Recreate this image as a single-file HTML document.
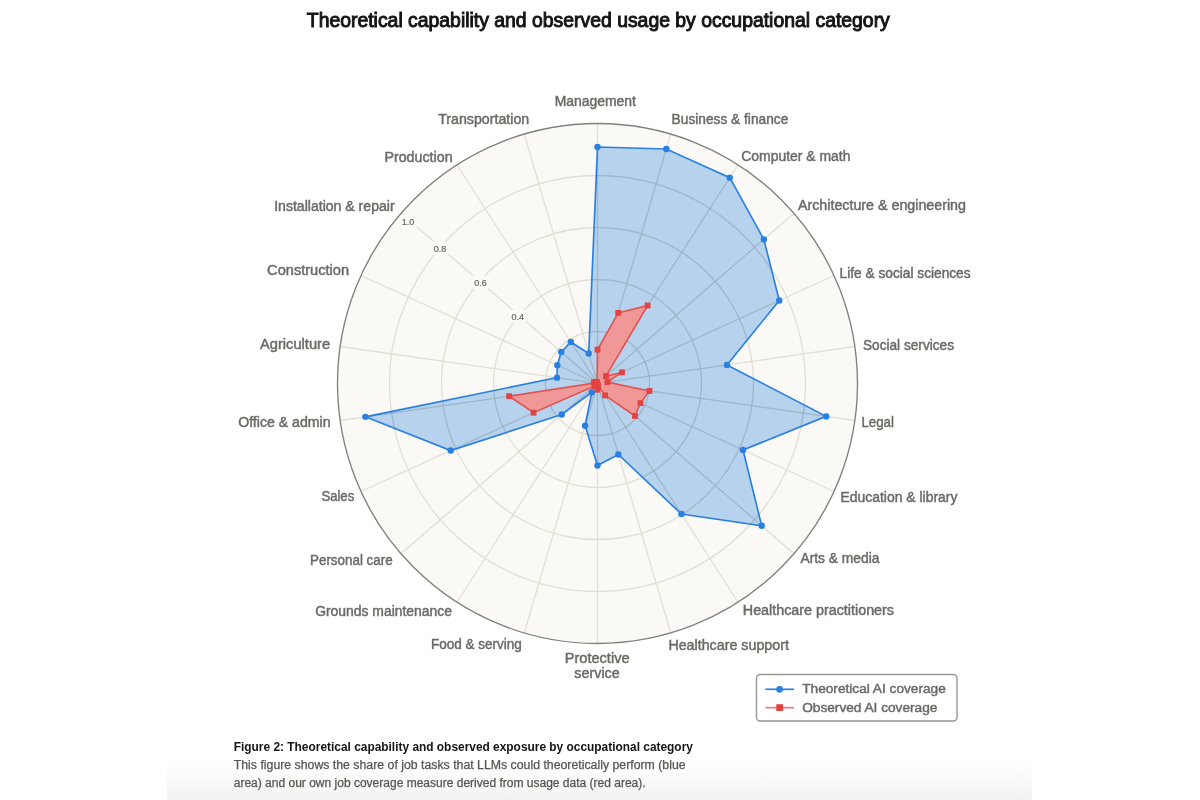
<!DOCTYPE html><html><head><meta charset="utf-8"><style>html,body{margin:0;padding:0;background:#fff;}svg{display:block;will-change:transform;}text{font-family:"Liberation Sans",sans-serif;} .lb{fill:#6b6a65;stroke:#6b6a65;stroke-width:0.45px;} .tt{fill:#141413;stroke:#141413;stroke-width:0.95px;}</style></head><body>
<svg width="1200" height="800" viewBox="0 0 1200 800">
<defs><linearGradient id="g" x1="0" y1="0" x2="0" y2="1"><stop offset="0" stop-color="#fff"/><stop offset="1" stop-color="#f2f2f2"/></linearGradient></defs>
<rect x="0" y="0" width="1200" height="800" fill="#fff"/>
<rect x="167" y="761" width="865" height="39" fill="url(#g)"/>
<text x="306.8" y="26.6" font-size="19.5" class="tt" textLength="583" lengthAdjust="spacingAndGlyphs">Theoretical capability and observed usage by occupational category</text>
<circle cx="597.5" cy="383.5" r="260.0" fill="#faf9f5"/>
<defs><clipPath id="bc"><polygon points="597.50,147.00 666.35,149.01 729.79,177.66 763.85,239.36 779.25,300.50 726.98,364.88 826.20,416.38 743.02,449.96 761.71,525.79 681.41,514.07 618.32,454.41 597.50,465.50 585.10,425.72 591.86,392.27 561.75,414.48 450.71,450.54 365.40,416.87 556.97,377.67 557.35,365.16 561.21,352.06 570.79,341.94 588.70,353.54"/></clipPath></defs>
<g fill="none" stroke="#e2dfd2" stroke-width="1.3" ><circle cx="597.5" cy="383.5" r="52.00"/><circle cx="597.5" cy="383.5" r="104.00"/><circle cx="597.5" cy="383.5" r="156.00"/><circle cx="597.5" cy="383.5" r="208.00"/><line x1="597.5" y1="383.5" x2="597.50" y2="123.50"/><line x1="597.5" y1="383.5" x2="670.75" y2="134.03"/><line x1="597.5" y1="383.5" x2="738.07" y2="164.77"/><line x1="597.5" y1="383.5" x2="793.99" y2="213.24"/><line x1="597.5" y1="383.5" x2="834.00" y2="275.49"/><line x1="597.5" y1="383.5" x2="854.85" y2="346.50"/><line x1="597.5" y1="383.5" x2="854.85" y2="420.50"/><line x1="597.5" y1="383.5" x2="834.00" y2="491.51"/><line x1="597.5" y1="383.5" x2="793.99" y2="553.76"/><line x1="597.5" y1="383.5" x2="738.07" y2="602.23"/><line x1="597.5" y1="383.5" x2="670.75" y2="632.97"/><line x1="597.5" y1="383.5" x2="597.50" y2="643.50"/><line x1="597.5" y1="383.5" x2="524.25" y2="632.97"/><line x1="597.5" y1="383.5" x2="456.93" y2="602.23"/><line x1="597.5" y1="383.5" x2="401.01" y2="553.76"/><line x1="597.5" y1="383.5" x2="361.00" y2="491.51"/><line x1="597.5" y1="383.5" x2="340.15" y2="420.50"/><line x1="597.5" y1="383.5" x2="340.15" y2="346.50"/><line x1="597.5" y1="383.5" x2="361.00" y2="275.49"/><line x1="597.5" y1="383.5" x2="401.01" y2="213.24"/><line x1="597.5" y1="383.5" x2="456.93" y2="164.77"/><line x1="597.5" y1="383.5" x2="524.25" y2="134.03"/></g>
<polygon points="597.50,147.00 666.35,149.01 729.79,177.66 763.85,239.36 779.25,300.50 726.98,364.88 826.20,416.38 743.02,449.96 761.71,525.79 681.41,514.07 618.32,454.41 597.50,465.50 585.10,425.72 591.86,392.27 561.75,414.48 450.71,450.54 365.40,416.87 556.97,377.67 557.35,365.16 561.21,352.06 570.79,341.94 588.70,353.54" fill="#1e78d7" fill-opacity="0.3" stroke="none"/>
<g fill="none" stroke="rgba(40,55,70,0.06)" stroke-width="1.2" clip-path="url(#bc)"><circle cx="597.5" cy="383.5" r="52.00"/><circle cx="597.5" cy="383.5" r="104.00"/><circle cx="597.5" cy="383.5" r="156.00"/><circle cx="597.5" cy="383.5" r="208.00"/><line x1="597.5" y1="383.5" x2="597.50" y2="123.50"/><line x1="597.5" y1="383.5" x2="670.75" y2="134.03"/><line x1="597.5" y1="383.5" x2="738.07" y2="164.77"/><line x1="597.5" y1="383.5" x2="793.99" y2="213.24"/><line x1="597.5" y1="383.5" x2="834.00" y2="275.49"/><line x1="597.5" y1="383.5" x2="854.85" y2="346.50"/><line x1="597.5" y1="383.5" x2="854.85" y2="420.50"/><line x1="597.5" y1="383.5" x2="834.00" y2="491.51"/><line x1="597.5" y1="383.5" x2="793.99" y2="553.76"/><line x1="597.5" y1="383.5" x2="738.07" y2="602.23"/><line x1="597.5" y1="383.5" x2="670.75" y2="632.97"/><line x1="597.5" y1="383.5" x2="597.50" y2="643.50"/><line x1="597.5" y1="383.5" x2="524.25" y2="632.97"/><line x1="597.5" y1="383.5" x2="456.93" y2="602.23"/><line x1="597.5" y1="383.5" x2="401.01" y2="553.76"/><line x1="597.5" y1="383.5" x2="361.00" y2="491.51"/><line x1="597.5" y1="383.5" x2="340.15" y2="420.50"/><line x1="597.5" y1="383.5" x2="340.15" y2="346.50"/><line x1="597.5" y1="383.5" x2="361.00" y2="275.49"/><line x1="597.5" y1="383.5" x2="401.01" y2="213.24"/><line x1="597.5" y1="383.5" x2="456.93" y2="164.77"/><line x1="597.5" y1="383.5" x2="524.25" y2="134.03"/></g>
<rect x="399.60" y="215.20" width="17" height="13" fill="#faf9f5"/>
<text x="408.10" y="225.00" font-size="9" fill="#67665f" stroke="#67665f" stroke-width="0.2" text-anchor="middle">1.0</text>
<rect x="431.60" y="241.90" width="17" height="13" fill="#faf9f5"/>
<text x="440.10" y="251.70" font-size="9" fill="#67665f" stroke="#67665f" stroke-width="0.2" text-anchor="middle">0.8</text>
<rect x="471.95" y="275.70" width="17" height="13" fill="#faf9f5"/>
<text x="480.45" y="285.50" font-size="9" fill="#67665f" stroke="#67665f" stroke-width="0.2" text-anchor="middle">0.6</text>
<rect x="509.30" y="310.10" width="17" height="13" fill="#faf9f5"/>
<text x="517.80" y="319.90" font-size="9" fill="#67665f" stroke="#67665f" stroke-width="0.2" text-anchor="middle">0.4</text>
<polygon points="597.50,147.00 666.35,149.01 729.79,177.66 763.85,239.36 779.25,300.50 726.98,364.88 826.20,416.38 743.02,449.96 761.71,525.79 681.41,514.07 618.32,454.41 597.50,465.50 585.10,425.72 591.86,392.27 561.75,414.48 450.71,450.54 365.40,416.87 556.97,377.67 557.35,365.16 561.21,352.06 570.79,341.94 588.70,353.54" fill="none" stroke="#2a80e0" stroke-width="1.65" stroke-linejoin="miter"/>
<circle cx="597.50" cy="147.00" r="3.2" fill="#2a80e0"/>
<circle cx="666.35" cy="149.01" r="3.2" fill="#2a80e0"/>
<circle cx="729.79" cy="177.66" r="3.2" fill="#2a80e0"/>
<circle cx="763.85" cy="239.36" r="3.2" fill="#2a80e0"/>
<circle cx="779.25" cy="300.50" r="3.2" fill="#2a80e0"/>
<circle cx="726.98" cy="364.88" r="3.2" fill="#2a80e0"/>
<circle cx="826.20" cy="416.38" r="3.2" fill="#2a80e0"/>
<circle cx="743.02" cy="449.96" r="3.2" fill="#2a80e0"/>
<circle cx="761.71" cy="525.79" r="3.2" fill="#2a80e0"/>
<circle cx="681.41" cy="514.07" r="3.2" fill="#2a80e0"/>
<circle cx="618.32" cy="454.41" r="3.2" fill="#2a80e0"/>
<circle cx="597.50" cy="465.50" r="3.2" fill="#2a80e0"/>
<circle cx="585.10" cy="425.72" r="3.2" fill="#2a80e0"/>
<circle cx="591.86" cy="392.27" r="3.2" fill="#2a80e0"/>
<circle cx="561.75" cy="414.48" r="3.2" fill="#2a80e0"/>
<circle cx="450.71" cy="450.54" r="3.2" fill="#2a80e0"/>
<circle cx="365.40" cy="416.87" r="3.2" fill="#2a80e0"/>
<circle cx="556.97" cy="377.67" r="3.2" fill="#2a80e0"/>
<circle cx="557.35" cy="365.16" r="3.2" fill="#2a80e0"/>
<circle cx="561.21" cy="352.06" r="3.2" fill="#2a80e0"/>
<circle cx="570.79" cy="341.94" r="3.2" fill="#2a80e0"/>
<circle cx="588.70" cy="353.54" r="3.2" fill="#2a80e0"/>
<polygon points="597.50,349.60 618.24,312.85 647.64,305.49 605.97,376.16 621.95,372.33 607.46,382.07 649.44,390.97 640.46,403.12 634.96,415.96 605.12,395.36 598.09,385.50 597.50,389.74 596.77,385.99 595.81,386.12 594.55,386.05 533.55,412.71 509.09,396.21 594.15,383.02 594.19,381.99 595.54,381.80 596.52,381.97 597.13,382.25" fill="#f09797" stroke="#e24242" stroke-opacity="0.85" stroke-width="1.6"/>
<rect x="594.60" y="346.70" width="5.8" height="5.8" fill="#e24242"/>
<rect x="615.34" y="309.95" width="5.8" height="5.8" fill="#e24242"/>
<rect x="644.74" y="302.59" width="5.8" height="5.8" fill="#e24242"/>
<rect x="603.07" y="373.26" width="5.8" height="5.8" fill="#e24242"/>
<rect x="619.05" y="369.43" width="5.8" height="5.8" fill="#e24242"/>
<rect x="604.56" y="379.17" width="5.8" height="5.8" fill="#e24242"/>
<rect x="646.54" y="388.07" width="5.8" height="5.8" fill="#e24242"/>
<rect x="637.56" y="400.22" width="5.8" height="5.8" fill="#e24242"/>
<rect x="632.06" y="413.06" width="5.8" height="5.8" fill="#e24242"/>
<rect x="602.22" y="392.46" width="5.8" height="5.8" fill="#e24242"/>
<rect x="595.19" y="382.60" width="5.8" height="5.8" fill="#e24242"/>
<rect x="594.60" y="386.84" width="5.8" height="5.8" fill="#e24242"/>
<rect x="593.87" y="383.09" width="5.8" height="5.8" fill="#e24242"/>
<rect x="592.91" y="383.22" width="5.8" height="5.8" fill="#e24242"/>
<rect x="591.65" y="383.15" width="5.8" height="5.8" fill="#e24242"/>
<rect x="530.65" y="409.81" width="5.8" height="5.8" fill="#e24242"/>
<rect x="506.19" y="393.31" width="5.8" height="5.8" fill="#e24242"/>
<rect x="591.25" y="380.12" width="5.8" height="5.8" fill="#e24242"/>
<rect x="591.29" y="379.09" width="5.8" height="5.8" fill="#e24242"/>
<rect x="592.64" y="378.90" width="5.8" height="5.8" fill="#e24242"/>
<rect x="593.62" y="379.07" width="5.8" height="5.8" fill="#e24242"/>
<rect x="594.23" y="379.35" width="5.8" height="5.8" fill="#e24242"/>
<circle cx="597.5" cy="383.5" r="260.0" fill="none" stroke="#80807c" stroke-width="1.35"/>
<text x="554.7" y="106.3" font-size="13.8" class="lb" textLength="81.3" lengthAdjust="spacingAndGlyphs">Management</text>
<text x="671.6" y="124.3" font-size="13.8" class="lb" textLength="116.7" lengthAdjust="spacingAndGlyphs">Business &amp; finance</text>
<text x="741.3" y="161.1" font-size="13.8" class="lb" textLength="109.1" lengthAdjust="spacingAndGlyphs">Computer &amp; math</text>
<text x="797.95" y="210.1" font-size="13.8" class="lb" textLength="168.05" lengthAdjust="spacingAndGlyphs">Architecture &amp; engineering</text>
<text x="839.6" y="277.8" font-size="13.8" class="lb" textLength="131.0" lengthAdjust="spacingAndGlyphs">Life &amp; social sciences</text>
<text x="862.95" y="349.7" font-size="13.8" class="lb" textLength="91.05" lengthAdjust="spacingAndGlyphs">Social services</text>
<text x="861.4" y="427.2" font-size="13.8" class="lb" textLength="32.6" lengthAdjust="spacingAndGlyphs">Legal</text>
<text x="840.45" y="502.2" font-size="13.8" class="lb" textLength="117.05" lengthAdjust="spacingAndGlyphs">Education &amp; library</text>
<text x="800.45" y="563.1" font-size="13.8" class="lb" textLength="78.95" lengthAdjust="spacingAndGlyphs">Arts &amp; media</text>
<text x="742.8" y="614.7" font-size="13.8" class="lb" textLength="151.2" lengthAdjust="spacingAndGlyphs">Healthcare practitioners</text>
<text x="668.4" y="649.5" font-size="13.8" class="lb" textLength="120.5" lengthAdjust="spacingAndGlyphs">Healthcare support</text>
<text x="430.9" y="649.3" font-size="13.8" class="lb" textLength="90.8" lengthAdjust="spacingAndGlyphs">Food &amp; serving</text>
<text x="315.2" y="616.4" font-size="13.8" class="lb" textLength="136.7" lengthAdjust="spacingAndGlyphs">Grounds maintenance</text>
<text x="310.0" y="564.9" font-size="13.8" class="lb" textLength="82.7" lengthAdjust="spacingAndGlyphs">Personal care</text>
<text x="321.45" y="501.3" font-size="13.8" class="lb" textLength="32.75" lengthAdjust="spacingAndGlyphs">Sales</text>
<text x="238.2" y="426.6" font-size="13.8" class="lb" textLength="92.4" lengthAdjust="spacingAndGlyphs">Office &amp; admin</text>
<text x="260.0" y="348.8" font-size="13.8" class="lb" textLength="70.1" lengthAdjust="spacingAndGlyphs">Agriculture</text>
<text x="267.1" y="274.9" font-size="13.8" class="lb" textLength="82.0" lengthAdjust="spacingAndGlyphs">Construction</text>
<text x="274.2" y="211.0" font-size="13.8" class="lb" textLength="120.4" lengthAdjust="spacingAndGlyphs">Installation &amp; repair</text>
<text x="384.45" y="161.5" font-size="13.8" class="lb" textLength="68.15" lengthAdjust="spacingAndGlyphs">Production</text>
<text x="438.2" y="124.3" font-size="13.8" class="lb" textLength="91.0" lengthAdjust="spacingAndGlyphs">Transportation</text>
<text x="564.7" y="662.8" font-size="13.8" class="lb" textLength="64.9" lengthAdjust="spacingAndGlyphs">Protective</text>
<text x="574.3" y="677.9" font-size="13.8" class="lb" textLength="45.5" lengthAdjust="spacingAndGlyphs">service</text>
<rect x="756.5" y="674.5" width="200.5" height="46.5" rx="3.5" fill="#fff" stroke="#979795" stroke-width="1.4"/>
<line x1="765.4" y1="689.3" x2="793.9" y2="689.3" stroke="#2a80e0" stroke-width="1.7"/>
<circle cx="779.6" cy="689.3" r="3.4" fill="#2a80e0"/>
<line x1="765.4" y1="707.7" x2="793.9" y2="707.7" stroke="#e24242" stroke-opacity="0.7" stroke-width="1.7"/>
<rect x="776.3" y="704.2" width="6.8" height="6.8" fill="#e24242"/>
<text x="802.2" y="693" font-size="12.7" class="lb" textLength="143.6" lengthAdjust="spacingAndGlyphs">Theoretical AI coverage</text>
<text x="802.2" y="711.6" font-size="12.7" class="lb" textLength="135.2" lengthAdjust="spacingAndGlyphs">Observed AI coverage</text>
<text x="233.75" y="751.25" font-size="12" font-weight="bold" fill="#141413" textLength="459.15" lengthAdjust="spacingAndGlyphs">Figure 2: Theoretical capability and observed exposure by occupational category</text>
<text x="233.75" y="768.75" font-size="12" fill="#57564f" stroke="#57564f" stroke-width="0.25" textLength="451.85" lengthAdjust="spacingAndGlyphs">This figure shows the share of job tasks that LLMs could theoretically perform (blue</text>
<text x="233.75" y="786.5" font-size="12" fill="#57564f" stroke="#57564f" stroke-width="0.25" textLength="411.85" lengthAdjust="spacingAndGlyphs">area) and our own job coverage measure derived from usage data (red area).</text>
</svg></body></html>
